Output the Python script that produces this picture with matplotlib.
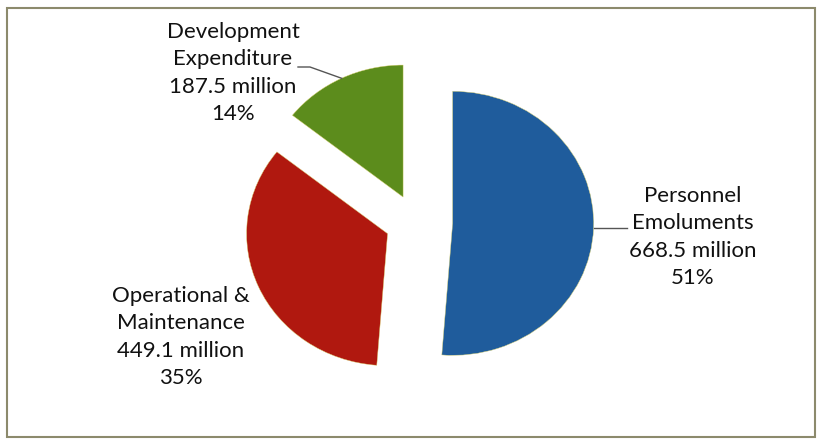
import numpy as np
import matplotlib
matplotlib.use("Agg")
import matplotlib.pyplot as plt
from matplotlib.patches import Rectangle

categories = ["Personnel\nEmoluments", "Operational &\nMaintenance", "Development\nExpenditure"]
values = [668.5, 449.1, 187.5]
value_labels = ["668.5 million", "449.1 million", "187.5 million"]
pct_labels = ["51%", "35%", "14%"]
colors = ["#1f5c9c", "#b0180f", "#5c8c1c"]
explode = [0.26, 0.22, 0.21]

W, H = 821, 440
fig = plt.figure(figsize=(W / 100, H / 100), dpi=100)
ax = fig.add_axes([0, 0, 1, 1])

# pixel -> data mapping (pie radius 1 = 141 px horizontally, 132 px vertically)
CX, CY, RX, RY = 416, 222, 141, 132
def p2d(px, py):
    return ((px - CX) / RX, (CY - py) / RY)

wedges, _ = ax.pie(values, colors=colors, startangle=90, counterclock=False,
                   explode=explode, radius=1.0, center=(0, 0),
                   wedgeprops=dict(linewidth=0.3, edgecolor="#d8d070"))
ax.set_aspect("auto")
ax.set_xlim(p2d(0, 0)[0], p2d(W, 0)[0])
ax.set_ylim(p2d(0, H)[1], p2d(0, 0)[1])
ax.axis("off")

font = dict(family=["Lato", "DejaVu Sans"], fontsize=16, color="#111111",
            ha="center", va="center", linespacing=1.45)

label_pos = [p2d(693, 237), p2d(181, 337), p2d(233, 73)]
for i, (c, v, p) in enumerate(zip(categories, value_labels, pct_labels)):
    ax.text(*label_pos[i], f"{c}\n{v}\n{p}", **font)

def mid_arc_point(w):
    ang = np.deg2rad((w.theta1 + w.theta2) / 2)
    cx, cy = w.center
    return cx + w.r * np.cos(ang), cy + w.r * np.sin(ang)

# leader line: Personnel
mx, my = mid_arc_point(wedges[0])
sx, sy = p2d(627, 229)
ax.plot([mx, sx], [my, my], color="#555555", lw=1.0)
# leader line: Development
mx, my = mid_arc_point(wedges[2])
sx, sy = p2d(298, 67)
kx, ky = p2d(310, 67)
ax.plot([sx, kx, mx], [sy, ky, my], color="#555555", lw=1.0)

fig.patches.append(Rectangle((7 / W, 1 - 437 / H), (815 - 7) / W, (437 - 8) / H,
                             transform=fig.transFigure, fill=False,
                             edgecolor="#8c8a6c", linewidth=1.5))

fig.savefig("out.png", dpi=100, facecolor="white")
